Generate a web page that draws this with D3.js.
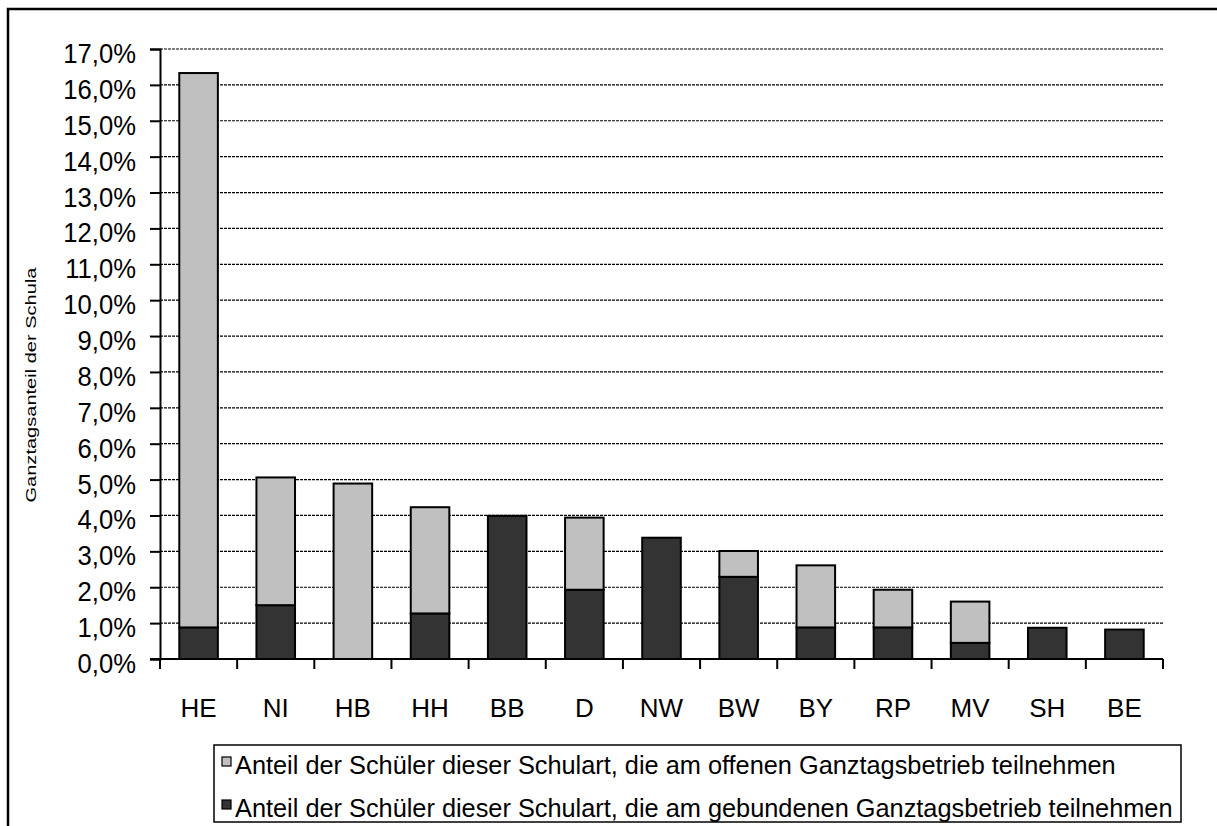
<!DOCTYPE html>
<html>
<head>
<meta charset="utf-8">
<script src="https://cdn.jsdelivr.net/npm/d3@7"></script>
<style>
  body { margin: 0; background: #fff; }
  svg text { font-family: "Liberation Sans", Arial, sans-serif; fill: #000; }
</style>
</head>
<body>
<div id="chart"></div>
<script>
// Bundesländer (Kategorien)
const categories = ["HE", "NI", "HB", "HH", "BB", "D", "NW", "BW", "BY", "RP", "MV", "SH", "BE"];
// gebundener Ganztagsbetrieb (in %)
const gebunden = [0.88, 1.50, 0, 1.27, 3.99, 1.93, 3.38, 2.29, 0.88, 0.88, 0.45, 0.87, 0.82];
// offener Ganztagsbetrieb (in %), oben drauf gestapelt
const offen = [15.45, 3.56, 4.89, 2.96, 0, 2.01, 0, 0.72, 1.73, 1.05, 1.15, 0, 0];
const yTicks = [0, 1, 2, 3, 4, 5, 6, 7, 8, 9, 10, 11, 12, 13, 14, 15, 16, 17];
const legendLabels = [
  "Anteil der Schüler dieser Schulart, die am offenen Ganztagsbetrieb teilnehmen",
  "Anteil der Schüler dieser Schulart, die am gebundenen Ganztagsbetrieb teilnehmen"
];
const yTitle = "Ganztagsanteil der Schula";

const width = 1217, height = 826;
const plot = { left: 160, right: 1163, top: 49, bottom: 659 };
const colors = { gebunden: "#333333", offen: "#c0c0c0" };

const svg = d3.select("#chart").append("svg")
  .attr("width", width)
  .attr("height", height);

// Rahmen um das ganze Diagramm (rechts/unten abgeschnitten)
svg.append("rect")
  .attr("x", 8).attr("y", 9)
  .attr("width", width + 20).attr("height", height + 20)
  .attr("fill", "none")
  .attr("stroke", "#000")
  .attr("stroke-width", 2.5);

const table = categories.map((c, i) => ({ cat: c, gebunden: gebunden[i], offen: offen[i] }));
const series = d3.stack().keys(["gebunden", "offen"])(table);

const x = d3.scaleBand()
  .domain(categories)
  .range([plot.left, plot.right])
  .paddingInner(0.5)
  .paddingOuter(0.25);

const y = d3.scaleLinear()
  .domain([0, 17])
  .range([plot.bottom, plot.top]);

// Gitterlinien (gestrichelt)
svg.append("g")
  .selectAll("line")
  .data(yTicks.filter(d => d > 0))
  .enter().append("line")
  .attr("x1", plot.left).attr("x2", plot.right)
  .attr("y1", d => y(d)).attr("y2", d => y(d))
  .attr("stroke", "#000")
  .attr("stroke-width", 1.2)
  .attr("stroke-dasharray", "3,1");

// Balken
svg.append("g")
  .selectAll("g")
  .data(series)
  .enter().append("g")
  .attr("fill", d => colors[d.key])
  .selectAll("rect")
  .data(d => d.filter(s => s[1] - s[0] > 0))
  .enter().append("rect")
  .attr("x", d => x(d.data.cat))
  .attr("width", x.bandwidth())
  .attr("y", d => y(d[1]))
  .attr("height", d => y(d[0]) - y(d[1]))
  .attr("stroke", "#000")
  .attr("stroke-width", 2);

// y-Achse
const yAxis = svg.append("g")
  .attr("transform", `translate(${plot.left},0)`)
  .call(d3.axisLeft(y)
    .tickValues(yTicks)
    .tickSize(10)
    .tickPadding(14)
    .tickFormat(d => d.toFixed(1).replace(".", ",") + "%"));
yAxis.select(".domain").attr("stroke-width", 2);
yAxis.selectAll(".tick line").attr("stroke-width", 2);
yAxis.selectAll(".tick text")
  .attr("font-size", 27)
  .attr("dy", "0.5em")
  .attr("x", 0)
  .attr("transform", "translate(-24,0) scale(0.95,1)");

// x-Achse mit Teilstrichen zwischen den Kategorien
svg.append("line")
  .attr("x1", plot.left - 10).attr("x2", plot.right)
  .attr("y1", plot.bottom).attr("y2", plot.bottom)
  .attr("stroke", "#000")
  .attr("stroke-width", 2);

const gap = (x.step() - x.bandwidth()) / 2;
const boundaries = categories.map(c => x(c) - gap).concat([plot.right]);
svg.append("g")
  .selectAll("line")
  .data(boundaries)
  .enter().append("line")
  .attr("x1", d => d).attr("x2", d => d)
  .attr("y1", plot.bottom).attr("y2", plot.bottom + 10)
  .attr("stroke", "#000")
  .attr("stroke-width", 2);

svg.append("g")
  .selectAll("text")
  .data(categories)
  .enter().append("text")
  .attr("x", d => x(d) + x.bandwidth() / 2)
  .attr("y", 717)
  .attr("text-anchor", "middle")
  .attr("font-size", 26)
  .text(d => d);

// Achsentitel (abgeschnitten wie im Original), in Leserichtung gestreckt
svg.append("text")
  .attr("transform", "translate(36,385) rotate(-90)")
  .attr("text-anchor", "middle")
  .attr("font-size", 15)
  .attr("textLength", 235)
  .attr("lengthAdjust", "spacingAndGlyphs")
  .text(yTitle);

// Legende
const legend = svg.append("g");
legend.append("rect")
  .attr("x", 214).attr("y", 745)
  .attr("width", 967).attr("height", 77)
  .attr("fill", "#fff")
  .attr("stroke", "#000")
  .attr("stroke-width", 1.5);

const legendItems = legend.selectAll("g.item")
  .data(legendLabels)
  .enter().append("g")
  .attr("class", "item")
  .attr("transform", (d, i) => `translate(222,${774 + i * 43})`);

legendItems.append("rect")
  .attr("x", 0).attr("y", -17)
  .attr("width", 9).attr("height", 9)
  .attr("fill", (d, i) => i === 0 ? colors.offen : colors.gebunden)
  .attr("stroke", "#000")
  .attr("stroke-width", 1.2);

const legendTexts = legendItems.append("text")
  .attr("x", 0)
  .attr("font-size", 26)
  .text(d => d);

// längste Zeile soll genau in den Kasten passen
const longest = d3.max(legendTexts.nodes(), n => n.getComputedTextLength());
const sx = Math.min(1, 938 / longest);
legendTexts.attr("transform", `translate(13,0) scale(${sx},1)`);
</script>
</body>
</html>
